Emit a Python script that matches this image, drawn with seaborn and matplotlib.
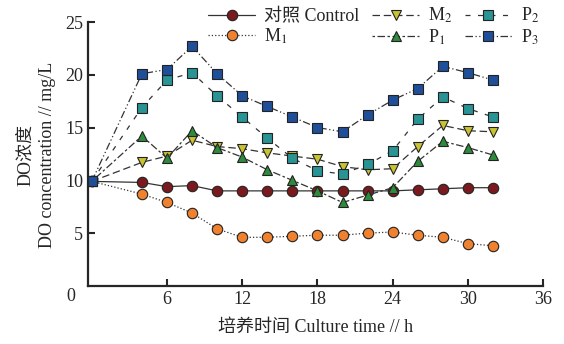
import numpy as np
import pandas as pd
import seaborn as sns
import matplotlib.pyplot as plt
from matplotlib.lines import Line2D

# 培养时间 (h)
time = [0, 4, 6, 8, 10, 12, 14, 16, 18, 20, 22, 24, 26, 28, 30, 32]

# DO浓度 mg/L
control = [9.9, 9.8, 9.4, 9.5, 9.0, 9.0, 9.0, 9.0, 9.0, 9.0, 9.0, 9.0, 9.1, 9.2, 9.3, 9.3]
m1 = [9.9, 8.7, 7.9, 6.9, 5.4, 4.6, 4.6, 4.7, 4.8, 4.8, 5.0, 5.1, 4.8, 4.6, 4.0, 3.8]
m2 = [9.9, 11.7, 12.3, 13.8, 13.2, 13.0, 12.6, 12.3, 12.0, 11.3, 11.0, 11.1, 13.2, 15.2, 14.7, 14.6]
p1 = [9.9, 14.2, 12.1, 14.7, 13.1, 12.2, 11.0, 10.0, 9.0, 7.9, 8.6, 9.3, 11.8, 13.7, 13.1, 12.4]
p2 = [9.9, 16.9, 19.5, 20.2, 18.0, 16.0, 14.0, 12.1, 10.9, 10.6, 11.5, 12.8, 15.8, 17.9, 16.8, 16.0]
p3 = [9.9, 20.1, 20.5, 22.7, 20.1, 18.0, 17.0, 16.0, 15.0, 14.6, 16.2, 17.6, 18.7, 20.8, 20.2, 19.5]

labels = ["对照 Control", "M$_1$", "M$_2$", "P$_1$", "P$_2$", "P$_3$"]
values = [control, m1, m2, p1, p2, p3]
colors = ["#7b1a1e", "#f0812e", "#c9c332", "#2f8a3c", "#2a9393", "#1f4f98"]
markers = ["o", "o", "v", "^", "s", "s"]
dashes = ["-", ":", (0, (6, 3)), (0, (2, 2, 6, 2)), (0, (4, 6)), (0, (6, 2, 1, 2, 1, 2))]

sns.set_style("ticks")
plt.rcParams['font.family'] = ['Liberation Serif', 'Noto Sans CJK SC']
plt.rcParams['mathtext.fontset'] = 'stix'

fig = plt.figure(figsize=(5.64, 3.44), dpi=100)
ax = fig.add_axes([0.156, 0.169, 0.807, 0.767])

handles = []
for lab, v, c, m, d in zip(labels, values, colors, markers, dashes):
    df = pd.DataFrame({"t": time, "do": v})
    sns.lineplot(data=df, x="t", y="do", ax=ax, color="#333333", linewidth=0.9,
                 linestyle=d, marker=m, markersize=7.5, markerfacecolor=c,
                 markeredgecolor="#222222", markeredgewidth=0.8)
    handles.append(Line2D([], [], color="#333333", linewidth=0.9, linestyle=d,
                          marker=m, markersize=7.5, markerfacecolor=c,
                          markeredgecolor="#222222", markeredgewidth=0.8))

ax.set_xlim(-0.3, 36)
ax.set_ylim(0, 25)
ax.set_xticks([6, 12, 18, 24, 30, 36])
ax.set_yticks([5, 10, 15, 20, 25])
ax.tick_params(direction="in", length=5, width=1.5, labelsize=13)
for s in ["left", "bottom"]:
    ax.spines[s].set_linewidth(1.6)
sns.despine(ax=ax)
ax.text(-1.7, -1.0, "0", fontsize=13, ha="center", va="center")

ax.set_xlabel("培养时间 Culture time // h", fontsize=13, labelpad=8)
ax.set_ylabel("")
fig.text(0.045, 0.55, "DO浓度", rotation=90, fontsize=13, ha="center", va="center")
fig.text(0.085, 0.55, "DO concentration // mg/L", rotation=90, fontsize=13,
         ha="center", va="center")

fig.legend(handles, labels, ncol=3, loc="upper right", bbox_to_anchor=(0.985, 1.03),
           frameon=False, fontsize=13, handlelength=2.6, columnspacing=0.7,
           labelspacing=0.1, handletextpad=0.5)

fig.savefig("out.png", dpi=100)
